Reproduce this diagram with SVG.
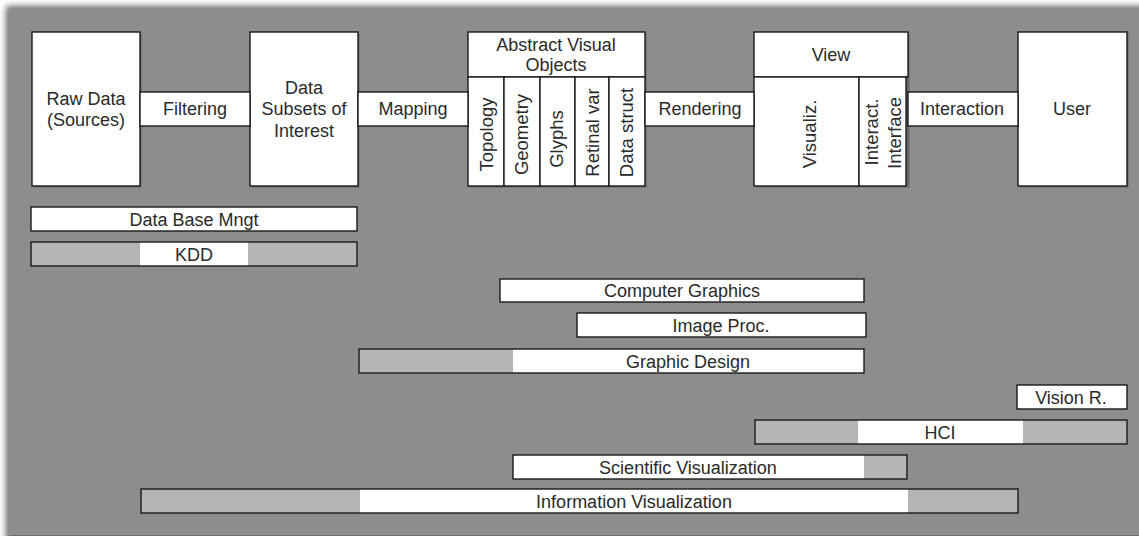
<svg xmlns="http://www.w3.org/2000/svg" width="1139" height="536" viewBox="0 0 1139 536">
  <defs>
    <filter id="panelShadow" x="-5%" y="-5%" width="110%" height="110%">
      <feGaussianBlur stdDeviation="3"/>
    </filter>
    <style>
      .box { fill: #ffffff; stroke: #1a1a1a; stroke-width: 1.4; }
      .shade { fill: #b4b4b4; }
      .frame { fill: none; stroke: #1a1a1a; stroke-width: 1.4; }
      .drop { fill: #4a4a4a; opacity: 0.55; }
      text { font-family: "Liberation Sans", Arial, Helvetica, sans-serif; font-size: 18px; fill: #2a2a2a; text-anchor: middle; }
      .vert { font-size: 18.5px; }
    </style>
  </defs>

  <!-- page and grey panel -->
  <rect x="0" y="0" width="1139" height="536" fill="#ffffff"/>
  <rect x="6" y="6" width="1140" height="536" fill="#6a6a6a" filter="url(#panelShadow)"/>
  <rect x="9" y="9" width="1130" height="526" fill="#8d8d8d"/>

  <!-- pipeline stages -->
  <g id="raw-data">
    <rect class="drop" x="33.5" y="33.5" width="108" height="154"/>
    <rect class="box" x="32" y="32" width="108" height="154"/>
    <text x="86" y="105">Raw Data</text>
    <text x="86" y="126">(Sources)</text>
  </g>

  <g id="data-subsets">
    <rect class="drop" x="251.5" y="33.5" width="108" height="154"/>
    <rect class="box" x="250" y="32" width="108" height="154"/>
    <text x="304" y="94">Data</text>
    <text x="304" y="115">Subsets of</text>
    <text x="304" y="137">Interest</text>
  </g>

  <g id="abstract-visual-objects">
    <rect class="drop" x="469.5" y="33.5" width="177" height="154"/>
    <rect class="box" x="468" y="32" width="177" height="45"/>
    <text x="556" y="51">Abstract Visual</text>
    <text x="556" y="71">Objects</text>
    <rect class="box" x="468" y="77" width="36" height="109"/>
    <rect class="box" x="504" y="77" width="36" height="109"/>
    <rect class="box" x="540" y="77" width="35" height="109"/>
    <rect class="box" x="575" y="77" width="34" height="109"/>
    <rect class="box" x="609" y="77" width="36" height="109"/>
    <text class="vert" transform="translate(493,134.5) rotate(-90)">Topology</text>
    <text class="vert" transform="translate(527.5,134.5) rotate(-90)">Geometry</text>
    <text class="vert" transform="translate(562.5,139) rotate(-90)">Glyphs</text>
    <text class="vert" transform="translate(598.5,132.5) rotate(-90)">Retinal var</text>
    <text class="vert" transform="translate(632.5,132.5) rotate(-90)">Data struct</text>
  </g>

  <g id="view">
    <rect class="drop" x="755.5" y="33.5" width="154" height="154"/>
    <rect class="box" x="754" y="32" width="154" height="45"/>
    <text x="831" y="61">View</text>
    <rect class="box" x="754" y="77" width="105" height="109"/>
    <rect class="box" x="859" y="77" width="47" height="109"/>
    <text class="vert" transform="translate(816,134) rotate(-90)">Visualiz.</text>
    <text class="vert" transform="translate(878,132) rotate(-90)">Interact.</text>
    <text class="vert" transform="translate(901,133) rotate(-90)">Interface</text>
  </g>

  <g id="user">
    <rect class="drop" x="1019.5" y="33.5" width="109" height="154"/>
    <rect class="box" x="1018" y="32" width="109" height="154"/>
    <text x="1072" y="115">User</text>
  </g>

  <!-- transitions linking the stages -->
  <g id="connectors">
    <g id="filtering">
      <rect class="box" x="140" y="92" width="110" height="34"/>
      <text x="195" y="115">Filtering</text>
    </g>
    <g id="mapping">
      <rect class="box" x="358" y="92" width="110" height="34"/>
      <text x="413" y="115">Mapping</text>
    </g>
    <g id="rendering">
      <rect class="box" x="645" y="92" width="109" height="34"/>
      <text x="700" y="115">Rendering</text>
    </g>
    <g id="interaction">
      <rect class="box" x="908" y="92" width="110" height="34"/>
      <text x="962" y="115">Interaction</text>
    </g>
  </g>

  <!-- disciplines spanning the pipeline -->
  <g id="data-base-mngt">
    <rect class="box" x="31" y="207" width="326" height="24"/>
    <text x="194" y="226">Data Base Mngt</text>
  </g>

  <g id="kdd">
    <rect class="shade" x="31" y="242" width="326" height="24"/>
    <rect fill="#ffffff" x="140" y="242" width="108" height="24"/>
    <rect class="frame" x="31" y="242" width="326" height="24"/>
    <text x="194" y="261">KDD</text>
  </g>

  <g id="computer-graphics">
    <rect class="box" x="500" y="279" width="364" height="23"/>
    <text x="682" y="297">Computer Graphics</text>
  </g>

  <g id="image-proc">
    <rect class="box" x="577" y="313" width="289" height="24"/>
    <text x="721" y="332">Image Proc.</text>
  </g>

  <g id="graphic-design">
    <rect fill="#ffffff" x="359" y="349" width="505" height="24"/>
    <rect class="shade" x="359" y="349" width="154" height="24"/>
    <rect class="frame" x="359" y="349" width="505" height="24"/>
    <text x="688" y="368">Graphic Design</text>
  </g>

  <g id="vision-r">
    <rect class="box" x="1017" y="385" width="110" height="24"/>
    <text x="1071" y="404">Vision R.</text>
  </g>

  <g id="hci">
    <rect class="shade" x="755" y="420" width="372" height="24"/>
    <rect fill="#ffffff" x="858" y="420" width="165" height="24"/>
    <rect class="frame" x="755" y="420" width="372" height="24"/>
    <text x="940" y="439">HCI</text>
  </g>

  <g id="scientific-visualization">
    <rect fill="#ffffff" x="513" y="455" width="394" height="24"/>
    <rect class="shade" x="864" y="455" width="43" height="24"/>
    <rect class="frame" x="513" y="455" width="394" height="24"/>
    <text x="688" y="474">Scientific Visualization</text>
  </g>

  <g id="information-visualization">
    <rect class="shade" x="141" y="489" width="877" height="24"/>
    <rect fill="#ffffff" x="360" y="489" width="548" height="24"/>
    <rect class="frame" x="141" y="489" width="877" height="24"/>
    <text x="634" y="508">Information Visualization</text>
  </g>
</svg>
